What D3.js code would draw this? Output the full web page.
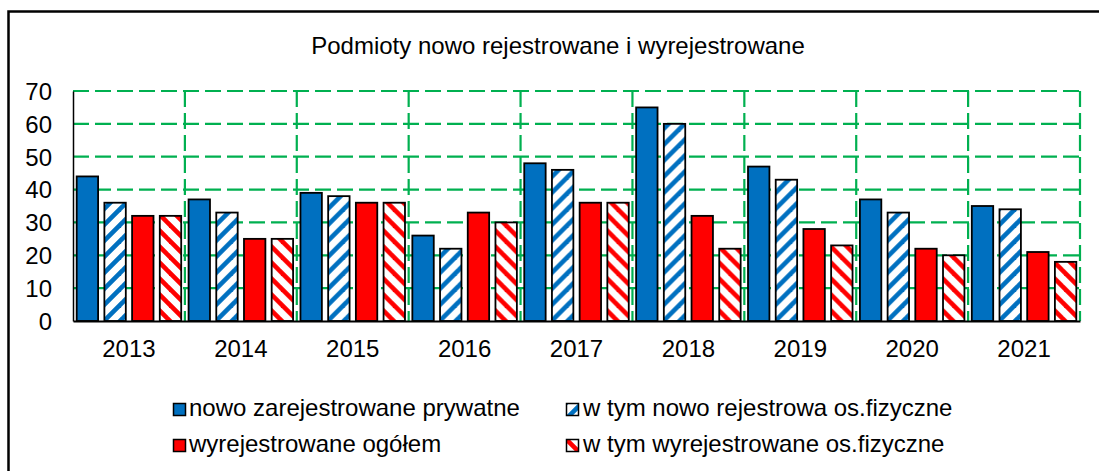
<!DOCTYPE html>
<html>
<head>
<meta charset="utf-8">
<script src="https://cdn.jsdelivr.net/npm/d3@7"></script>
<style>
  html, body { margin: 0; padding: 0; background: #fff; }
  svg { display: block; font-family: "Liberation Sans", Arial, sans-serif; }
</style>
</head>
<body>
<svg id="chart" width="1099" height="471"></svg>
<script>
const title = "Podmioty nowo rejestrowane i wyrejestrowane";
const years = ["2013","2014","2015","2016","2017","2018","2019","2020","2021"];
const seriesNames = [
  "nowo zarejestrowane prywatne",
  "w tym nowo rejestrowa os.fizyczne",
  "wyrejestrowane ogółem",
  "w tym wyrejestrowane os.fizyczne"
];
const nowoPrywatne   = [44, 37, 39, 26, 48, 65, 47, 37, 35];
const nowoFizyczne   = [36, 33, 38, 22, 46, 60, 43, 33, 34];
const wyrejOgolem    = [32, 25, 36, 33, 36, 32, 28, 22, 21];
const wyrejFizyczne  = [32, 25, 36, 30, 36, 22, 23, 20, 18];
const yTicks = [0, 10, 20, 30, 40, 50, 60, 70];

const seriesValues = [nowoPrywatne, nowoFizyczne, wyrejOgolem, wyrejFizyczne];
const BLUE = "#0070C0", RED = "#FF0000", GREEN = "#00B050";
const fills = ["solid-blue", "hatch-blue", "solid-red", "hatch-red"];

const svg = d3.select("#chart");
const defs = svg.append("defs");

function hatch(id, color, dir) {
  const s = 16;
  const p = defs.append("pattern").attr("id", id)
    .attr("patternUnits", "userSpaceOnUse").attr("width", s).attr("height", s);
  p.append("rect").attr("width", s).attr("height", s).attr("fill", "#fff");
  const g = p.append("g").attr("stroke", color).attr("stroke-width", 4.6).attr("stroke-linecap", "square");
  if (dir === "up") {
    g.append("line").attr("x1", 0).attr("y1", s).attr("x2", s).attr("y2", 0);
    g.append("line").attr("x1", -s/2).attr("y1", s/2).attr("x2", s/2).attr("y2", -s/2);
    g.append("line").attr("x1", s/2).attr("y1", s*1.5).attr("x2", s*1.5).attr("y2", s/2);
  } else {
    g.append("line").attr("x1", 0).attr("y1", 0).attr("x2", s).attr("y2", s);
    g.append("line").attr("x1", -s/2).attr("y1", s/2).attr("x2", s/2).attr("y2", s*1.5);
    g.append("line").attr("x1", s/2).attr("y1", -s/2).attr("x2", s*1.5).attr("y2", s/2);
  }
}
hatch("hatch-blue", BLUE, "up");
hatch("hatch-red", RED, "down");
function fillFor(i) {
  if (i === 0) return BLUE;
  if (i === 2) return RED;
  return "url(#" + fills[i] + ")";
}

// outer frame
svg.append("rect").attr("x", 8.5).attr("y", 11.5).attr("width", 1300).attr("height", 700)
  .attr("fill", "none").attr("stroke", "#000").attr("stroke-width", 2.5);

const pLeft = 73, pRight = 1080, pTop = 91, pBottom = 321;

const x0 = d3.scaleBand().domain(years).range([pLeft, pRight]).padding(0);
const x1 = d3.scaleBand().domain(d3.range(4)).range([0, x0.bandwidth()])
  .paddingInner(0.227).paddingOuter(0.133);
const y = d3.scaleLinear().domain([0, 70]).range([pBottom, pTop]);

// title
svg.append("text").attr("x", 558).attr("y", 54).attr("text-anchor", "middle")
  .attr("font-size", 24).attr("fill", "#000").text(title);

// grid
const grid = svg.append("g").attr("stroke", GREEN).attr("stroke-width", 2.2)
  .attr("stroke-dasharray", "16,6").attr("fill", "none");
grid.selectAll("line.h").data(yTicks.filter(d => d > 0)).join("line").attr("class", "h")
  .attr("x1", pLeft).attr("x2", pRight).attr("y1", d => y(d)).attr("y2", d => y(d));
grid.selectAll("line.v").data(years).join("line").attr("class", "v")
  .attr("x1", d => x0(d) + x0.bandwidth()).attr("x2", d => x0(d) + x0.bandwidth())
  .attr("y1", pTop).attr("y2", pBottom);

// bars
const groups = svg.append("g").selectAll("g").data(years).join("g")
  .attr("transform", d => `translate(${x0(d)},0)`);
groups.selectAll("rect").data((d, yi) => seriesValues.map((s, si) => ({si, v: s[yi]})))
  .join("rect")
  .attr("x", d => x1(d.si)).attr("width", x1.bandwidth())
  .attr("y", d => y(d.v)).attr("height", d => y(0) - y(d.v))
  .attr("fill", d => fillFor(d.si))
  .attr("stroke", "#000").attr("stroke-width", 1.8);

// axes
const yAxis = d3.axisLeft(y).tickValues(yTicks).tickSize(0).tickPadding(21);
const ya = svg.append("g").attr("transform", `translate(${pLeft},0)`).call(yAxis);
ya.select(".domain").attr("stroke", "#000").attr("stroke-width", 1.5);
ya.selectAll("text").attr("font-size", 24).attr("font-family", "Liberation Sans, Arial, sans-serif")
  .attr("fill", "#000").attr("dy", "0.35em");

const xAxis = d3.axisBottom(x0).tickSize(0).tickPadding(0);
const xa = svg.append("g").attr("transform", `translate(0,${pBottom})`).call(xAxis);
xa.select(".domain").attr("stroke", "#000").attr("stroke-width", 1.8);
xa.selectAll("text").attr("font-size", 24).attr("font-family", "Liberation Sans, Arial, sans-serif")
  .attr("fill", "#000").attr("dy", 0).attr("y", 36);

// legend
const legendPos = [[173, 403], [566, 403], [173, 439], [566, 439]];
const lg = svg.append("g").selectAll("g").data(seriesNames).join("g")
  .attr("transform", (d, i) => `translate(${legendPos[i][0]},${legendPos[i][1]})`);
lg.append("rect").attr("x", 0.5).attr("y", 0.5).attr("width", 12).attr("height", 12)
  .attr("fill", (d, i) => fillFor(i)).attr("stroke", "#000").attr("stroke-width", 1.5);
lg.append("text").attr("x", (d, i) => i % 2 === 0 ? 16 : 17).attr("y", 13)
  .attr("font-size", 24).attr("fill", "#000").text(d => d);
</script>
</body>
</html>
